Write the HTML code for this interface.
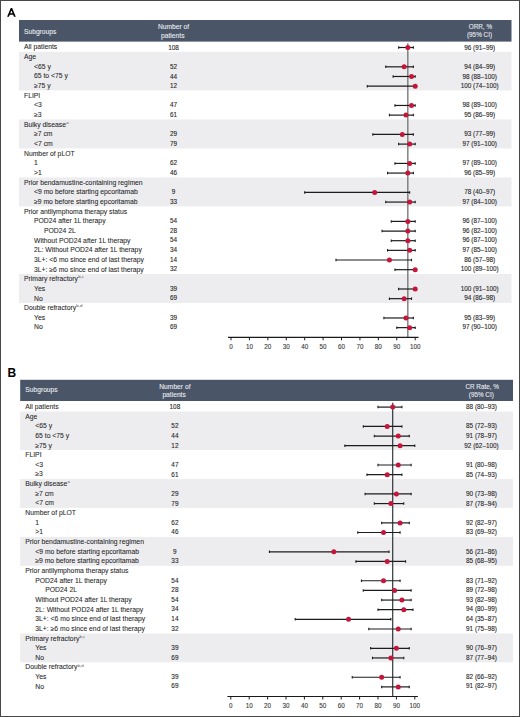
<!DOCTYPE html>
<html><head><meta charset="utf-8"><style>
html,body{margin:0;padding:0;background:#fff;}
body{width:520px;height:717px;overflow:hidden;position:relative;}
#frame{position:absolute;left:0;top:0;width:518px;height:715px;border:1px solid #484848;}
svg{position:absolute;left:0;top:0;}
text{font-family:"Liberation Sans",sans-serif;}
.t{font-size:6.8px;fill:#262626;stroke:#262626;stroke-width:0.07px;}
.n{font-size:6.4px;fill:#262626;stroke:#262626;stroke-width:0.1px;}
.ht{font-size:6.7px;fill:#e8ebf0;stroke:#e8ebf0;stroke-width:0.1px;}
.ht2{font-size:6.35px;fill:#e8ebf0;stroke:#e8ebf0;stroke-width:0.1px;}
.ax{font-size:6.3px;fill:#3a3a3a;stroke:#3a3a3a;stroke-width:0.1px;}
.plab{font-size:12px;font-weight:bold;fill:#000;}
.sup{font-size:4.3px;fill:#505050;stroke:none;}
</style></head><body>
<svg width="520" height="717" viewBox="0 0 520 717">
<path fill='#000' fill-rule='evenodd' d='M7.1 16.8 L10.75 8.1 L12.15 8.1 L15.8 16.8 L14.0 16.8 L13.16 14.7 L9.74 14.7 L8.9 16.8 Z M10.31 13.3 L12.59 13.3 L11.45 10.46 Z'/>
<rect x='19' y='20' width='492.5' height='21.6' fill='#4a5567'/>
<text class='ht' x='24' y='33.90'>Subgroups</text>
<text class='ht' text-anchor='middle' x='173.6' y='29.00'>Number of</text>
<text class='ht' text-anchor='middle' x='172.8' y='37.60'>patients</text>
<text class='ht2' text-anchor='middle' x='480.4' y='28.80'>ORR, %</text>
<text class='ht2' text-anchor='middle' x='479.5' y='36.80'>(95% CI)</text>
<rect x='19' y='51.83' width='492.5' height='38.64' fill='#ededf0'/>
<rect x='19' y='119.45' width='492.5' height='28.98' fill='#ededf0'/>
<rect x='19' y='177.41' width='492.5' height='28.98' fill='#ededf0'/>
<rect x='19' y='274.01' width='492.5' height='28.98' fill='#ededf0'/>
<line x1='407.83' x2='407.83' y1='43.2' y2='337.3' stroke='#707070' stroke-width='1.3'/>
<text class='t' x='24.0' y='49.35'>All patients</text>
<text class='n' text-anchor='middle' x='173.6' y='49.60'>108</text>
<text class='n' text-anchor='middle' x='479.7' y='49.60'>96 (91–99)</text>
<line x1='398.62' x2='413.36' y1='47.50' y2='47.50' stroke='#1c1c1c' stroke-width='1.2'/>
<line x1='398.62' x2='398.62' y1='46.25' y2='48.75' stroke='#1c1c1c' stroke-width='1.1'/>
<line x1='413.36' x2='413.36' y1='46.25' y2='48.75' stroke='#1c1c1c' stroke-width='1.1'/>
<circle cx='407.83' cy='47.50' r='2.5' fill='#c4153a'/>
<text class='t' x='24.0' y='59.01'>Age</text>
<text class='t' x='34.0' y='68.67'>&lt;65 y</text>
<text class='n' text-anchor='middle' x='173.6' y='68.88'>52</text>
<text class='n' text-anchor='middle' x='479.7' y='68.88'>94 (84–99)</text>
<line x1='385.73' x2='413.36' y1='66.82' y2='66.82' stroke='#1c1c1c' stroke-width='1.2'/>
<line x1='385.73' x2='385.73' y1='65.57' y2='68.07' stroke='#1c1c1c' stroke-width='1.1'/>
<line x1='413.36' x2='413.36' y1='65.57' y2='68.07' stroke='#1c1c1c' stroke-width='1.1'/>
<circle cx='404.15' cy='66.82' r='2.5' fill='#c4153a'/>
<text class='t' x='34.0' y='78.33'>65 to &lt;75 y</text>
<text class='n' text-anchor='middle' x='173.6' y='78.53'>44</text>
<text class='n' text-anchor='middle' x='479.7' y='78.53'>98 (88–100)</text>
<line x1='393.10' x2='415.20' y1='76.48' y2='76.48' stroke='#1c1c1c' stroke-width='1.2'/>
<line x1='393.10' x2='393.10' y1='75.23' y2='77.73' stroke='#1c1c1c' stroke-width='1.1'/>
<line x1='415.20' x2='415.20' y1='75.23' y2='77.73' stroke='#1c1c1c' stroke-width='1.1'/>
<circle cx='411.52' cy='76.48' r='2.5' fill='#c4153a'/>
<text class='t' x='34.0' y='87.99'>≥75 y</text>
<text class='n' text-anchor='middle' x='173.6' y='88.17'>12</text>
<text class='n' text-anchor='middle' x='479.7' y='88.17'>100 (74–100)</text>
<line x1='367.31' x2='415.20' y1='86.14' y2='86.14' stroke='#1c1c1c' stroke-width='1.2'/>
<line x1='367.31' x2='367.31' y1='84.89' y2='87.39' stroke='#1c1c1c' stroke-width='1.1'/>
<line x1='415.20' x2='415.20' y1='84.89' y2='87.39' stroke='#1c1c1c' stroke-width='1.1'/>
<circle cx='415.20' cy='86.14' r='2.5' fill='#c4153a'/>
<text class='t' x='24.0' y='97.65'>FLIPI</text>
<text class='t' x='34.0' y='107.31'>&lt;3</text>
<text class='n' text-anchor='middle' x='173.6' y='107.45'>47</text>
<text class='n' text-anchor='middle' x='479.7' y='107.45'>98 (89–100)</text>
<line x1='394.94' x2='415.20' y1='105.46' y2='105.46' stroke='#1c1c1c' stroke-width='1.2'/>
<line x1='394.94' x2='394.94' y1='104.21' y2='106.71' stroke='#1c1c1c' stroke-width='1.1'/>
<line x1='415.20' x2='415.20' y1='104.21' y2='106.71' stroke='#1c1c1c' stroke-width='1.1'/>
<circle cx='411.52' cy='105.46' r='2.5' fill='#c4153a'/>
<text class='t' x='34.0' y='116.97'>≥3</text>
<text class='n' text-anchor='middle' x='173.6' y='117.09'>61</text>
<text class='n' text-anchor='middle' x='479.7' y='117.09'>95 (86–99)</text>
<line x1='389.41' x2='413.36' y1='115.12' y2='115.12' stroke='#1c1c1c' stroke-width='1.2'/>
<line x1='389.41' x2='389.41' y1='113.87' y2='116.37' stroke='#1c1c1c' stroke-width='1.1'/>
<line x1='413.36' x2='413.36' y1='113.87' y2='116.37' stroke='#1c1c1c' stroke-width='1.1'/>
<circle cx='405.99' cy='115.12' r='2.5' fill='#c4153a'/>
<text class='t' x='24.0' y='126.63'>Bulky disease<tspan class='sup' dx='0.2' dy='-2.8'>a</tspan></text>
<text class='t' x='34.0' y='136.29'>≥7 cm</text>
<text class='n' text-anchor='middle' x='173.6' y='136.38'>29</text>
<text class='n' text-anchor='middle' x='479.7' y='136.38'>93 (77–99)</text>
<line x1='372.83' x2='413.36' y1='134.44' y2='134.44' stroke='#1c1c1c' stroke-width='1.2'/>
<line x1='372.83' x2='372.83' y1='133.19' y2='135.69' stroke='#1c1c1c' stroke-width='1.1'/>
<line x1='413.36' x2='413.36' y1='133.19' y2='135.69' stroke='#1c1c1c' stroke-width='1.1'/>
<circle cx='402.31' cy='134.44' r='2.5' fill='#c4153a'/>
<text class='t' x='34.0' y='145.95'>&lt;7 cm</text>
<text class='n' text-anchor='middle' x='173.6' y='146.02'>79</text>
<text class='n' text-anchor='middle' x='479.7' y='146.02'>97 (91–100)</text>
<line x1='398.62' x2='415.20' y1='144.10' y2='144.10' stroke='#1c1c1c' stroke-width='1.2'/>
<line x1='398.62' x2='398.62' y1='142.85' y2='145.35' stroke='#1c1c1c' stroke-width='1.1'/>
<line x1='415.20' x2='415.20' y1='142.85' y2='145.35' stroke='#1c1c1c' stroke-width='1.1'/>
<circle cx='409.67' cy='144.10' r='2.5' fill='#c4153a'/>
<text class='t' x='24.0' y='155.61'>Number of pLOT</text>
<text class='t' x='34.0' y='165.27'>1</text>
<text class='n' text-anchor='middle' x='173.6' y='165.30'>62</text>
<text class='n' text-anchor='middle' x='479.7' y='165.30'>97 (89–100)</text>
<line x1='394.94' x2='415.20' y1='163.42' y2='163.42' stroke='#1c1c1c' stroke-width='1.2'/>
<line x1='394.94' x2='394.94' y1='162.17' y2='164.67' stroke='#1c1c1c' stroke-width='1.1'/>
<line x1='415.20' x2='415.20' y1='162.17' y2='164.67' stroke='#1c1c1c' stroke-width='1.1'/>
<circle cx='409.67' cy='163.42' r='2.5' fill='#c4153a'/>
<text class='t' x='34.0' y='174.93'>&gt;1</text>
<text class='n' text-anchor='middle' x='173.6' y='174.95'>46</text>
<text class='n' text-anchor='middle' x='479.7' y='174.95'>96 (85–99)</text>
<line x1='387.57' x2='413.36' y1='173.08' y2='173.08' stroke='#1c1c1c' stroke-width='1.2'/>
<line x1='387.57' x2='387.57' y1='171.83' y2='174.33' stroke='#1c1c1c' stroke-width='1.1'/>
<line x1='413.36' x2='413.36' y1='171.83' y2='174.33' stroke='#1c1c1c' stroke-width='1.1'/>
<circle cx='407.83' cy='173.08' r='2.5' fill='#c4153a'/>
<text class='t' x='24.0' y='184.59'>Prior bendamustine-containing regimen</text>
<text class='t' x='34.0' y='194.25'>&lt;9 mo before starting epcoritamab</text>
<text class='n' text-anchor='middle' x='173.6' y='194.23'>9</text>
<text class='n' text-anchor='middle' x='479.7' y='194.23'>78 (40–97)</text>
<line x1='304.68' x2='409.67' y1='192.40' y2='192.40' stroke='#1c1c1c' stroke-width='1.2'/>
<line x1='304.68' x2='304.68' y1='191.15' y2='193.65' stroke='#1c1c1c' stroke-width='1.1'/>
<line x1='409.67' x2='409.67' y1='191.15' y2='193.65' stroke='#1c1c1c' stroke-width='1.1'/>
<circle cx='374.68' cy='192.40' r='2.5' fill='#c4153a'/>
<text class='t' x='34.0' y='203.91'>≥9 mo before starting epcoritamab</text>
<text class='n' text-anchor='middle' x='173.6' y='203.87'>33</text>
<text class='n' text-anchor='middle' x='479.7' y='203.87'>97 (84–100)</text>
<line x1='385.73' x2='415.20' y1='202.06' y2='202.06' stroke='#1c1c1c' stroke-width='1.2'/>
<line x1='385.73' x2='385.73' y1='200.81' y2='203.31' stroke='#1c1c1c' stroke-width='1.1'/>
<line x1='415.20' x2='415.20' y1='200.81' y2='203.31' stroke='#1c1c1c' stroke-width='1.1'/>
<circle cx='409.67' cy='202.06' r='2.5' fill='#c4153a'/>
<text class='t' x='24.0' y='213.57'>Prior antilymphoma therapy status</text>
<text class='t' x='34.0' y='223.23'>POD24 after 1L therapy</text>
<text class='n' text-anchor='middle' x='173.6' y='223.16'>54</text>
<text class='n' text-anchor='middle' x='479.7' y='223.16'>96 (87–100)</text>
<line x1='391.25' x2='415.20' y1='221.38' y2='221.38' stroke='#1c1c1c' stroke-width='1.2'/>
<line x1='391.25' x2='391.25' y1='220.13' y2='222.63' stroke='#1c1c1c' stroke-width='1.1'/>
<line x1='415.20' x2='415.20' y1='220.13' y2='222.63' stroke='#1c1c1c' stroke-width='1.1'/>
<circle cx='407.83' cy='221.38' r='2.5' fill='#c4153a'/>
<text class='t' x='44.0' y='232.89'>POD24 2L</text>
<text class='n' text-anchor='middle' x='173.6' y='232.80'>28</text>
<text class='n' text-anchor='middle' x='479.7' y='232.80'>96 (82–100)</text>
<line x1='382.04' x2='415.20' y1='231.04' y2='231.04' stroke='#1c1c1c' stroke-width='1.2'/>
<line x1='382.04' x2='382.04' y1='229.79' y2='232.29' stroke='#1c1c1c' stroke-width='1.1'/>
<line x1='415.20' x2='415.20' y1='229.79' y2='232.29' stroke='#1c1c1c' stroke-width='1.1'/>
<circle cx='407.83' cy='231.04' r='2.5' fill='#c4153a'/>
<text class='t' x='34.0' y='242.55'>Without POD24 after 1L therapy</text>
<text class='n' text-anchor='middle' x='173.6' y='242.44'>54</text>
<text class='n' text-anchor='middle' x='479.7' y='242.44'>96 (87–100)</text>
<line x1='391.25' x2='415.20' y1='240.70' y2='240.70' stroke='#1c1c1c' stroke-width='1.2'/>
<line x1='391.25' x2='391.25' y1='239.45' y2='241.95' stroke='#1c1c1c' stroke-width='1.1'/>
<line x1='415.20' x2='415.20' y1='239.45' y2='241.95' stroke='#1c1c1c' stroke-width='1.1'/>
<circle cx='407.83' cy='240.70' r='2.5' fill='#c4153a'/>
<text class='t' x='34.0' y='252.21'>2L: Without POD24 after 1L therapy</text>
<text class='n' text-anchor='middle' x='173.6' y='252.08'>34</text>
<text class='n' text-anchor='middle' x='479.7' y='252.08'>97 (85–100)</text>
<line x1='387.57' x2='415.20' y1='250.36' y2='250.36' stroke='#1c1c1c' stroke-width='1.2'/>
<line x1='387.57' x2='387.57' y1='249.11' y2='251.61' stroke='#1c1c1c' stroke-width='1.1'/>
<line x1='415.20' x2='415.20' y1='249.11' y2='251.61' stroke='#1c1c1c' stroke-width='1.1'/>
<circle cx='409.67' cy='250.36' r='2.5' fill='#c4153a'/>
<text class='t' x='34.0' y='261.87'>3L+: &lt;6 mo since end of last therapy</text>
<text class='n' text-anchor='middle' x='173.6' y='261.72'>14</text>
<text class='n' text-anchor='middle' x='479.7' y='261.72'>86 (57–98)</text>
<line x1='335.99' x2='411.52' y1='260.02' y2='260.02' stroke='#1c1c1c' stroke-width='1.2'/>
<line x1='335.99' x2='335.99' y1='258.77' y2='261.27' stroke='#1c1c1c' stroke-width='1.1'/>
<line x1='411.52' x2='411.52' y1='258.77' y2='261.27' stroke='#1c1c1c' stroke-width='1.1'/>
<circle cx='389.41' cy='260.02' r='2.5' fill='#c4153a'/>
<text class='t' x='34.0' y='271.53'>3L+: ≥6 mo since end of last therapy</text>
<text class='n' text-anchor='middle' x='173.6' y='271.37'>32</text>
<text class='n' text-anchor='middle' x='479.7' y='271.37'>100 (89–100)</text>
<line x1='394.94' x2='415.20' y1='269.68' y2='269.68' stroke='#1c1c1c' stroke-width='1.2'/>
<line x1='394.94' x2='394.94' y1='268.43' y2='270.93' stroke='#1c1c1c' stroke-width='1.1'/>
<line x1='415.20' x2='415.20' y1='268.43' y2='270.93' stroke='#1c1c1c' stroke-width='1.1'/>
<circle cx='415.20' cy='269.68' r='2.5' fill='#c4153a'/>
<text class='t' x='24.0' y='281.19'>Primary refractory<tspan class='sup' dx='0.2' dy='-2.8'>b,c</tspan></text>
<text class='t' x='34.0' y='290.85'>Yes</text>
<text class='n' text-anchor='middle' x='173.6' y='290.65'>39</text>
<text class='n' text-anchor='middle' x='479.7' y='290.65'>100 (91–100)</text>
<line x1='398.62' x2='415.20' y1='289.00' y2='289.00' stroke='#1c1c1c' stroke-width='1.2'/>
<line x1='398.62' x2='398.62' y1='287.75' y2='290.25' stroke='#1c1c1c' stroke-width='1.1'/>
<line x1='415.20' x2='415.20' y1='287.75' y2='290.25' stroke='#1c1c1c' stroke-width='1.1'/>
<circle cx='415.20' cy='289.00' r='2.5' fill='#c4153a'/>
<text class='t' x='34.0' y='300.51'>No</text>
<text class='n' text-anchor='middle' x='173.6' y='300.29'>69</text>
<text class='n' text-anchor='middle' x='479.7' y='300.29'>94 (86–98)</text>
<line x1='389.41' x2='411.52' y1='298.66' y2='298.66' stroke='#1c1c1c' stroke-width='1.2'/>
<line x1='389.41' x2='389.41' y1='297.41' y2='299.91' stroke='#1c1c1c' stroke-width='1.1'/>
<line x1='411.52' x2='411.52' y1='297.41' y2='299.91' stroke='#1c1c1c' stroke-width='1.1'/>
<circle cx='404.15' cy='298.66' r='2.5' fill='#c4153a'/>
<text class='t' x='24.0' y='310.17'>Double refractory<tspan class='sup' dx='0.2' dy='-2.8'>b,d</tspan></text>
<text class='t' x='34.0' y='319.83'>Yes</text>
<text class='n' text-anchor='middle' x='173.6' y='319.58'>39</text>
<text class='n' text-anchor='middle' x='479.7' y='319.58'>95 (83–99)</text>
<line x1='383.89' x2='413.36' y1='317.98' y2='317.98' stroke='#1c1c1c' stroke-width='1.2'/>
<line x1='383.89' x2='383.89' y1='316.73' y2='319.23' stroke='#1c1c1c' stroke-width='1.1'/>
<line x1='413.36' x2='413.36' y1='316.73' y2='319.23' stroke='#1c1c1c' stroke-width='1.1'/>
<circle cx='405.99' cy='317.98' r='2.5' fill='#c4153a'/>
<text class='t' x='34.0' y='329.49'>No</text>
<text class='n' text-anchor='middle' x='173.6' y='329.22'>69</text>
<text class='n' text-anchor='middle' x='479.7' y='329.22'>97 (90–100)</text>
<line x1='396.78' x2='415.20' y1='327.64' y2='327.64' stroke='#1c1c1c' stroke-width='1.2'/>
<line x1='396.78' x2='396.78' y1='326.39' y2='328.89' stroke='#1c1c1c' stroke-width='1.1'/>
<line x1='415.20' x2='415.20' y1='326.39' y2='328.89' stroke='#1c1c1c' stroke-width='1.1'/>
<circle cx='409.67' cy='327.64' r='2.5' fill='#c4153a'/>
<line x1='228' x2='418.5' y1='337.3' y2='337.3' stroke='#1a1a1a' stroke-width='1.2'/>
<line x1='231.00' x2='231.00' y1='337.3' y2='340.3' stroke='#1a1a1a' stroke-width='1'/>
<text class='ax' text-anchor='middle' x='231.00' y='349.20'>0</text>
<line x1='249.42' x2='249.42' y1='337.3' y2='340.3' stroke='#1a1a1a' stroke-width='1'/>
<text class='ax' text-anchor='middle' x='249.42' y='349.20'>10</text>
<line x1='267.84' x2='267.84' y1='337.3' y2='340.3' stroke='#1a1a1a' stroke-width='1'/>
<text class='ax' text-anchor='middle' x='267.84' y='349.20'>20</text>
<line x1='286.26' x2='286.26' y1='337.3' y2='340.3' stroke='#1a1a1a' stroke-width='1'/>
<text class='ax' text-anchor='middle' x='286.26' y='349.20'>30</text>
<line x1='304.68' x2='304.68' y1='337.3' y2='340.3' stroke='#1a1a1a' stroke-width='1'/>
<text class='ax' text-anchor='middle' x='304.68' y='349.20'>40</text>
<line x1='323.10' x2='323.10' y1='337.3' y2='340.3' stroke='#1a1a1a' stroke-width='1'/>
<text class='ax' text-anchor='middle' x='323.10' y='349.20'>50</text>
<line x1='341.52' x2='341.52' y1='337.3' y2='340.3' stroke='#1a1a1a' stroke-width='1'/>
<text class='ax' text-anchor='middle' x='341.52' y='349.20'>60</text>
<line x1='359.94' x2='359.94' y1='337.3' y2='340.3' stroke='#1a1a1a' stroke-width='1'/>
<text class='ax' text-anchor='middle' x='359.94' y='349.20'>70</text>
<line x1='378.36' x2='378.36' y1='337.3' y2='340.3' stroke='#1a1a1a' stroke-width='1'/>
<text class='ax' text-anchor='middle' x='378.36' y='349.20'>80</text>
<line x1='396.78' x2='396.78' y1='337.3' y2='340.3' stroke='#1a1a1a' stroke-width='1'/>
<text class='ax' text-anchor='middle' x='396.78' y='349.20'>90</text>
<line x1='415.20' x2='415.20' y1='337.3' y2='340.3' stroke='#1a1a1a' stroke-width='1'/>
<text class='ax' text-anchor='middle' x='415.20' y='349.20'>100</text>
<text class='plab' x='7.6' y='377.4'>B</text>
<rect x='20.2' y='379.8' width='492.8' height='21.19999999999999' fill='#4a5567'/>
<text class='ht' x='25.3' y='392.00'>Subgroups</text>
<text class='ht' text-anchor='middle' x='174.9' y='388.60'>Number of</text>
<text class='ht' text-anchor='middle' x='174.10000000000002' y='397.20'>patients</text>
<text class='ht2' text-anchor='middle' x='482.2' y='389.00'>CR Rate, %</text>
<text class='ht2' text-anchor='middle' x='481.3' y='397.00'>(95% CI)</text>
<rect x='20.2' y='411.52' width='492.8' height='38.49' fill='#ededf0'/>
<rect x='20.2' y='479.06' width='492.8' height='28.84' fill='#ededf0'/>
<rect x='20.2' y='536.95' width='492.8' height='28.84' fill='#ededf0'/>
<rect x='20.2' y='633.43' width='492.8' height='28.84' fill='#ededf0'/>
<line x1='392.72' x2='392.72' y1='402.7' y2='696.5' stroke='#1c2626' stroke-width='1.1'/>
<text class='t' x='25.3' y='408.95'>All patients</text>
<text class='n' text-anchor='middle' x='174.9' y='409.20'>108</text>
<text class='n' text-anchor='middle' x='481.5' y='409.20'>88 (80–93)</text>
<line x1='378.00' x2='401.92' y1='407.10' y2='407.10' stroke='#1c1c1c' stroke-width='1.2'/>
<line x1='378.00' x2='378.00' y1='405.85' y2='408.35' stroke='#1c1c1c' stroke-width='1.1'/>
<line x1='401.92' x2='401.92' y1='405.85' y2='408.35' stroke='#1c1c1c' stroke-width='1.1'/>
<circle cx='392.72' cy='407.10' r='2.5' fill='#c4153a'/>
<text class='t' x='25.3' y='418.60'>Age</text>
<text class='t' x='35.3' y='428.25'>&lt;65 y</text>
<text class='n' text-anchor='middle' x='174.9' y='428.46'>52</text>
<text class='n' text-anchor='middle' x='481.5' y='428.46'>85 (72–93)</text>
<line x1='363.28' x2='401.92' y1='426.40' y2='426.40' stroke='#1c1c1c' stroke-width='1.2'/>
<line x1='363.28' x2='363.28' y1='425.15' y2='427.65' stroke='#1c1c1c' stroke-width='1.1'/>
<line x1='401.92' x2='401.92' y1='425.15' y2='427.65' stroke='#1c1c1c' stroke-width='1.1'/>
<circle cx='387.20' cy='426.40' r='2.5' fill='#c4153a'/>
<text class='t' x='35.3' y='437.89'>65 to &lt;75 y</text>
<text class='n' text-anchor='middle' x='174.9' y='438.09'>44</text>
<text class='n' text-anchor='middle' x='481.5' y='438.09'>91 (78–97)</text>
<line x1='374.32' x2='409.28' y1='436.04' y2='436.04' stroke='#1c1c1c' stroke-width='1.2'/>
<line x1='374.32' x2='374.32' y1='434.79' y2='437.29' stroke='#1c1c1c' stroke-width='1.1'/>
<line x1='409.28' x2='409.28' y1='434.79' y2='437.29' stroke='#1c1c1c' stroke-width='1.1'/>
<circle cx='398.24' cy='436.04' r='2.5' fill='#c4153a'/>
<text class='t' x='35.3' y='447.54'>≥75 y</text>
<text class='n' text-anchor='middle' x='174.9' y='447.72'>12</text>
<text class='n' text-anchor='middle' x='481.5' y='447.72'>92 (62–100)</text>
<line x1='344.88' x2='414.80' y1='445.69' y2='445.69' stroke='#1c1c1c' stroke-width='1.2'/>
<line x1='344.88' x2='344.88' y1='444.44' y2='446.94' stroke='#1c1c1c' stroke-width='1.1'/>
<line x1='414.80' x2='414.80' y1='444.44' y2='446.94' stroke='#1c1c1c' stroke-width='1.1'/>
<circle cx='400.08' cy='445.69' r='2.5' fill='#c4153a'/>
<text class='t' x='25.3' y='457.19'>FLIPI</text>
<text class='t' x='35.3' y='466.84'>&lt;3</text>
<text class='n' text-anchor='middle' x='174.9' y='466.98'>47</text>
<text class='n' text-anchor='middle' x='481.5' y='466.98'>91 (80–98)</text>
<line x1='378.00' x2='411.12' y1='464.99' y2='464.99' stroke='#1c1c1c' stroke-width='1.2'/>
<line x1='378.00' x2='378.00' y1='463.74' y2='466.24' stroke='#1c1c1c' stroke-width='1.1'/>
<line x1='411.12' x2='411.12' y1='463.74' y2='466.24' stroke='#1c1c1c' stroke-width='1.1'/>
<circle cx='398.24' cy='464.99' r='2.5' fill='#c4153a'/>
<text class='t' x='35.3' y='476.49'>≥3</text>
<text class='n' text-anchor='middle' x='174.9' y='476.61'>61</text>
<text class='n' text-anchor='middle' x='481.5' y='476.61'>85 (74–93)</text>
<line x1='366.96' x2='401.92' y1='474.64' y2='474.64' stroke='#1c1c1c' stroke-width='1.2'/>
<line x1='366.96' x2='366.96' y1='473.39' y2='475.89' stroke='#1c1c1c' stroke-width='1.1'/>
<line x1='401.92' x2='401.92' y1='473.39' y2='475.89' stroke='#1c1c1c' stroke-width='1.1'/>
<circle cx='387.20' cy='474.64' r='2.5' fill='#c4153a'/>
<text class='t' x='25.3' y='486.13'>Bulky disease<tspan class='sup' dx='0.2' dy='-2.8'>a</tspan></text>
<text class='t' x='35.3' y='495.78'>≥7 cm</text>
<text class='n' text-anchor='middle' x='174.9' y='495.87'>29</text>
<text class='n' text-anchor='middle' x='481.5' y='495.87'>90 (73–98)</text>
<line x1='365.12' x2='411.12' y1='493.93' y2='493.93' stroke='#1c1c1c' stroke-width='1.2'/>
<line x1='365.12' x2='365.12' y1='492.68' y2='495.18' stroke='#1c1c1c' stroke-width='1.1'/>
<line x1='411.12' x2='411.12' y1='492.68' y2='495.18' stroke='#1c1c1c' stroke-width='1.1'/>
<circle cx='396.40' cy='493.93' r='2.5' fill='#c4153a'/>
<text class='t' x='35.3' y='505.43'>&lt;7 cm</text>
<text class='n' text-anchor='middle' x='174.9' y='505.50'>79</text>
<text class='n' text-anchor='middle' x='481.5' y='505.50'>87 (78–94)</text>
<line x1='374.32' x2='403.76' y1='503.58' y2='503.58' stroke='#1c1c1c' stroke-width='1.2'/>
<line x1='374.32' x2='374.32' y1='502.33' y2='504.83' stroke='#1c1c1c' stroke-width='1.1'/>
<line x1='403.76' x2='403.76' y1='502.33' y2='504.83' stroke='#1c1c1c' stroke-width='1.1'/>
<circle cx='390.88' cy='503.58' r='2.5' fill='#c4153a'/>
<text class='t' x='25.3' y='515.08'>Number of pLOT</text>
<text class='t' x='35.3' y='524.73'>1</text>
<text class='n' text-anchor='middle' x='174.9' y='524.76'>62</text>
<text class='n' text-anchor='middle' x='481.5' y='524.76'>92 (82–97)</text>
<line x1='381.68' x2='409.28' y1='522.88' y2='522.88' stroke='#1c1c1c' stroke-width='1.2'/>
<line x1='381.68' x2='381.68' y1='521.63' y2='524.13' stroke='#1c1c1c' stroke-width='1.1'/>
<line x1='409.28' x2='409.28' y1='521.63' y2='524.13' stroke='#1c1c1c' stroke-width='1.1'/>
<circle cx='400.08' cy='522.88' r='2.5' fill='#c4153a'/>
<text class='t' x='35.3' y='534.37'>&gt;1</text>
<text class='n' text-anchor='middle' x='174.9' y='534.39'>46</text>
<text class='n' text-anchor='middle' x='481.5' y='534.39'>83 (69–92)</text>
<line x1='357.76' x2='400.08' y1='532.52' y2='532.52' stroke='#1c1c1c' stroke-width='1.2'/>
<line x1='357.76' x2='357.76' y1='531.27' y2='533.77' stroke='#1c1c1c' stroke-width='1.1'/>
<line x1='400.08' x2='400.08' y1='531.27' y2='533.77' stroke='#1c1c1c' stroke-width='1.1'/>
<circle cx='383.52' cy='532.52' r='2.5' fill='#c4153a'/>
<text class='t' x='25.3' y='544.02'>Prior bendamustine-containing regimen</text>
<text class='t' x='35.3' y='553.67'>&lt;9 mo before starting epcoritamab</text>
<text class='n' text-anchor='middle' x='174.9' y='553.65'>9</text>
<text class='n' text-anchor='middle' x='481.5' y='553.65'>56 (21–86)</text>
<line x1='269.44' x2='389.04' y1='551.82' y2='551.82' stroke='#1c1c1c' stroke-width='1.2'/>
<line x1='269.44' x2='269.44' y1='550.57' y2='553.07' stroke='#1c1c1c' stroke-width='1.1'/>
<line x1='389.04' x2='389.04' y1='550.57' y2='553.07' stroke='#1c1c1c' stroke-width='1.1'/>
<circle cx='333.84' cy='551.82' r='2.5' fill='#c4153a'/>
<text class='t' x='35.3' y='563.32'>≥9 mo before starting epcoritamab</text>
<text class='n' text-anchor='middle' x='174.9' y='563.28'>33</text>
<text class='n' text-anchor='middle' x='481.5' y='563.28'>85 (68–95)</text>
<line x1='355.92' x2='405.60' y1='561.47' y2='561.47' stroke='#1c1c1c' stroke-width='1.2'/>
<line x1='355.92' x2='355.92' y1='560.22' y2='562.72' stroke='#1c1c1c' stroke-width='1.1'/>
<line x1='405.60' x2='405.60' y1='560.22' y2='562.72' stroke='#1c1c1c' stroke-width='1.1'/>
<circle cx='387.20' cy='561.47' r='2.5' fill='#c4153a'/>
<text class='t' x='25.3' y='572.97'>Prior antilymphoma therapy status</text>
<text class='t' x='35.3' y='582.61'>POD24 after 1L therapy</text>
<text class='n' text-anchor='middle' x='174.9' y='582.54'>54</text>
<text class='n' text-anchor='middle' x='481.5' y='582.54'>83 (71–92)</text>
<line x1='361.44' x2='400.08' y1='580.76' y2='580.76' stroke='#1c1c1c' stroke-width='1.2'/>
<line x1='361.44' x2='361.44' y1='579.51' y2='582.01' stroke='#1c1c1c' stroke-width='1.1'/>
<line x1='400.08' x2='400.08' y1='579.51' y2='582.01' stroke='#1c1c1c' stroke-width='1.1'/>
<circle cx='383.52' cy='580.76' r='2.5' fill='#c4153a'/>
<text class='t' x='45.3' y='592.26'>POD24 2L</text>
<text class='n' text-anchor='middle' x='174.9' y='592.17'>28</text>
<text class='n' text-anchor='middle' x='481.5' y='592.17'>89 (72–98)</text>
<line x1='363.28' x2='411.12' y1='590.41' y2='590.41' stroke='#1c1c1c' stroke-width='1.2'/>
<line x1='363.28' x2='363.28' y1='589.16' y2='591.66' stroke='#1c1c1c' stroke-width='1.1'/>
<line x1='411.12' x2='411.12' y1='589.16' y2='591.66' stroke='#1c1c1c' stroke-width='1.1'/>
<circle cx='394.56' cy='590.41' r='2.5' fill='#c4153a'/>
<text class='t' x='35.3' y='601.91'>Without POD24 after 1L therapy</text>
<text class='n' text-anchor='middle' x='174.9' y='601.80'>54</text>
<text class='n' text-anchor='middle' x='481.5' y='601.80'>93 (82–98)</text>
<line x1='381.68' x2='411.12' y1='600.06' y2='600.06' stroke='#1c1c1c' stroke-width='1.2'/>
<line x1='381.68' x2='381.68' y1='598.81' y2='601.31' stroke='#1c1c1c' stroke-width='1.1'/>
<line x1='411.12' x2='411.12' y1='598.81' y2='601.31' stroke='#1c1c1c' stroke-width='1.1'/>
<circle cx='401.92' cy='600.06' r='2.5' fill='#c4153a'/>
<text class='t' x='35.3' y='611.56'>2L: Without POD24 after 1L therapy</text>
<text class='n' text-anchor='middle' x='174.9' y='611.43'>34</text>
<text class='n' text-anchor='middle' x='481.5' y='611.43'>94 (80–99)</text>
<line x1='378.00' x2='412.96' y1='609.71' y2='609.71' stroke='#1c1c1c' stroke-width='1.2'/>
<line x1='378.00' x2='378.00' y1='608.46' y2='610.96' stroke='#1c1c1c' stroke-width='1.1'/>
<line x1='412.96' x2='412.96' y1='608.46' y2='610.96' stroke='#1c1c1c' stroke-width='1.1'/>
<circle cx='403.76' cy='609.71' r='2.5' fill='#c4153a'/>
<text class='t' x='35.3' y='621.21'>3L+: &lt;6 mo since end of last therapy</text>
<text class='n' text-anchor='middle' x='174.9' y='621.06'>14</text>
<text class='n' text-anchor='middle' x='481.5' y='621.06'>64 (35–87)</text>
<line x1='295.20' x2='390.88' y1='619.36' y2='619.36' stroke='#1c1c1c' stroke-width='1.2'/>
<line x1='295.20' x2='295.20' y1='618.11' y2='620.61' stroke='#1c1c1c' stroke-width='1.1'/>
<line x1='390.88' x2='390.88' y1='618.11' y2='620.61' stroke='#1c1c1c' stroke-width='1.1'/>
<circle cx='348.56' cy='619.36' r='2.5' fill='#c4153a'/>
<text class='t' x='35.3' y='630.85'>3L+: ≥6 mo since end of last therapy</text>
<text class='n' text-anchor='middle' x='174.9' y='630.69'>32</text>
<text class='n' text-anchor='middle' x='481.5' y='630.69'>91 (75–98)</text>
<line x1='368.80' x2='411.12' y1='629.00' y2='629.00' stroke='#1c1c1c' stroke-width='1.2'/>
<line x1='368.80' x2='368.80' y1='627.75' y2='630.25' stroke='#1c1c1c' stroke-width='1.1'/>
<line x1='411.12' x2='411.12' y1='627.75' y2='630.25' stroke='#1c1c1c' stroke-width='1.1'/>
<circle cx='398.24' cy='629.00' r='2.5' fill='#c4153a'/>
<text class='t' x='25.3' y='640.50'>Primary refractory<tspan class='sup' dx='0.2' dy='-2.8'>b,c</tspan></text>
<text class='t' x='35.3' y='650.15'>Yes</text>
<text class='n' text-anchor='middle' x='174.9' y='649.95'>39</text>
<text class='n' text-anchor='middle' x='481.5' y='649.95'>90 (76–97)</text>
<line x1='370.64' x2='409.28' y1='648.30' y2='648.30' stroke='#1c1c1c' stroke-width='1.2'/>
<line x1='370.64' x2='370.64' y1='647.05' y2='649.55' stroke='#1c1c1c' stroke-width='1.1'/>
<line x1='409.28' x2='409.28' y1='647.05' y2='649.55' stroke='#1c1c1c' stroke-width='1.1'/>
<circle cx='396.40' cy='648.30' r='2.5' fill='#c4153a'/>
<text class='t' x='35.3' y='659.80'>No</text>
<text class='n' text-anchor='middle' x='174.9' y='659.58'>69</text>
<text class='n' text-anchor='middle' x='481.5' y='659.58'>87 (77–94)</text>
<line x1='372.48' x2='403.76' y1='657.95' y2='657.95' stroke='#1c1c1c' stroke-width='1.2'/>
<line x1='372.48' x2='372.48' y1='656.70' y2='659.20' stroke='#1c1c1c' stroke-width='1.1'/>
<line x1='403.76' x2='403.76' y1='656.70' y2='659.20' stroke='#1c1c1c' stroke-width='1.1'/>
<circle cx='390.88' cy='657.95' r='2.5' fill='#c4153a'/>
<text class='t' x='25.3' y='669.45'>Double refractory<tspan class='sup' dx='0.2' dy='-2.8'>b,d</tspan></text>
<text class='t' x='35.3' y='679.09'>Yes</text>
<text class='n' text-anchor='middle' x='174.9' y='678.84'>39</text>
<text class='n' text-anchor='middle' x='481.5' y='678.84'>82 (66–92)</text>
<line x1='352.24' x2='400.08' y1='677.24' y2='677.24' stroke='#1c1c1c' stroke-width='1.2'/>
<line x1='352.24' x2='352.24' y1='675.99' y2='678.49' stroke='#1c1c1c' stroke-width='1.1'/>
<line x1='400.08' x2='400.08' y1='675.99' y2='678.49' stroke='#1c1c1c' stroke-width='1.1'/>
<circle cx='381.68' cy='677.24' r='2.5' fill='#c4153a'/>
<text class='t' x='35.3' y='688.74'>No</text>
<text class='n' text-anchor='middle' x='174.9' y='688.47'>69</text>
<text class='n' text-anchor='middle' x='481.5' y='688.47'>91 (82–97)</text>
<line x1='381.68' x2='409.28' y1='686.89' y2='686.89' stroke='#1c1c1c' stroke-width='1.2'/>
<line x1='381.68' x2='381.68' y1='685.64' y2='688.14' stroke='#1c1c1c' stroke-width='1.1'/>
<line x1='409.28' x2='409.28' y1='685.64' y2='688.14' stroke='#1c1c1c' stroke-width='1.1'/>
<circle cx='398.24' cy='686.89' r='2.5' fill='#c4153a'/>
<line x1='227.4' x2='417.9' y1='696.5' y2='696.5' stroke='#1a1a1a' stroke-width='1.2'/>
<line x1='230.80' x2='230.80' y1='696.5' y2='699.5' stroke='#1a1a1a' stroke-width='1'/>
<text class='ax' text-anchor='middle' x='230.80' y='708.40'>0</text>
<line x1='249.20' x2='249.20' y1='696.5' y2='699.5' stroke='#1a1a1a' stroke-width='1'/>
<text class='ax' text-anchor='middle' x='249.20' y='708.40'>10</text>
<line x1='267.60' x2='267.60' y1='696.5' y2='699.5' stroke='#1a1a1a' stroke-width='1'/>
<text class='ax' text-anchor='middle' x='267.60' y='708.40'>20</text>
<line x1='286.00' x2='286.00' y1='696.5' y2='699.5' stroke='#1a1a1a' stroke-width='1'/>
<text class='ax' text-anchor='middle' x='286.00' y='708.40'>30</text>
<line x1='304.40' x2='304.40' y1='696.5' y2='699.5' stroke='#1a1a1a' stroke-width='1'/>
<text class='ax' text-anchor='middle' x='304.40' y='708.40'>40</text>
<line x1='322.80' x2='322.80' y1='696.5' y2='699.5' stroke='#1a1a1a' stroke-width='1'/>
<text class='ax' text-anchor='middle' x='322.80' y='708.40'>50</text>
<line x1='341.20' x2='341.20' y1='696.5' y2='699.5' stroke='#1a1a1a' stroke-width='1'/>
<text class='ax' text-anchor='middle' x='341.20' y='708.40'>60</text>
<line x1='359.60' x2='359.60' y1='696.5' y2='699.5' stroke='#1a1a1a' stroke-width='1'/>
<text class='ax' text-anchor='middle' x='359.60' y='708.40'>70</text>
<line x1='378.00' x2='378.00' y1='696.5' y2='699.5' stroke='#1a1a1a' stroke-width='1'/>
<text class='ax' text-anchor='middle' x='378.00' y='708.40'>80</text>
<line x1='396.40' x2='396.40' y1='696.5' y2='699.5' stroke='#1a1a1a' stroke-width='1'/>
<text class='ax' text-anchor='middle' x='396.40' y='708.40'>90</text>
<line x1='414.80' x2='414.80' y1='696.5' y2='699.5' stroke='#1a1a1a' stroke-width='1'/>
<text class='ax' text-anchor='middle' x='414.80' y='708.40'>100</text>
</svg>
<div id="frame"></div>
</body></html>
